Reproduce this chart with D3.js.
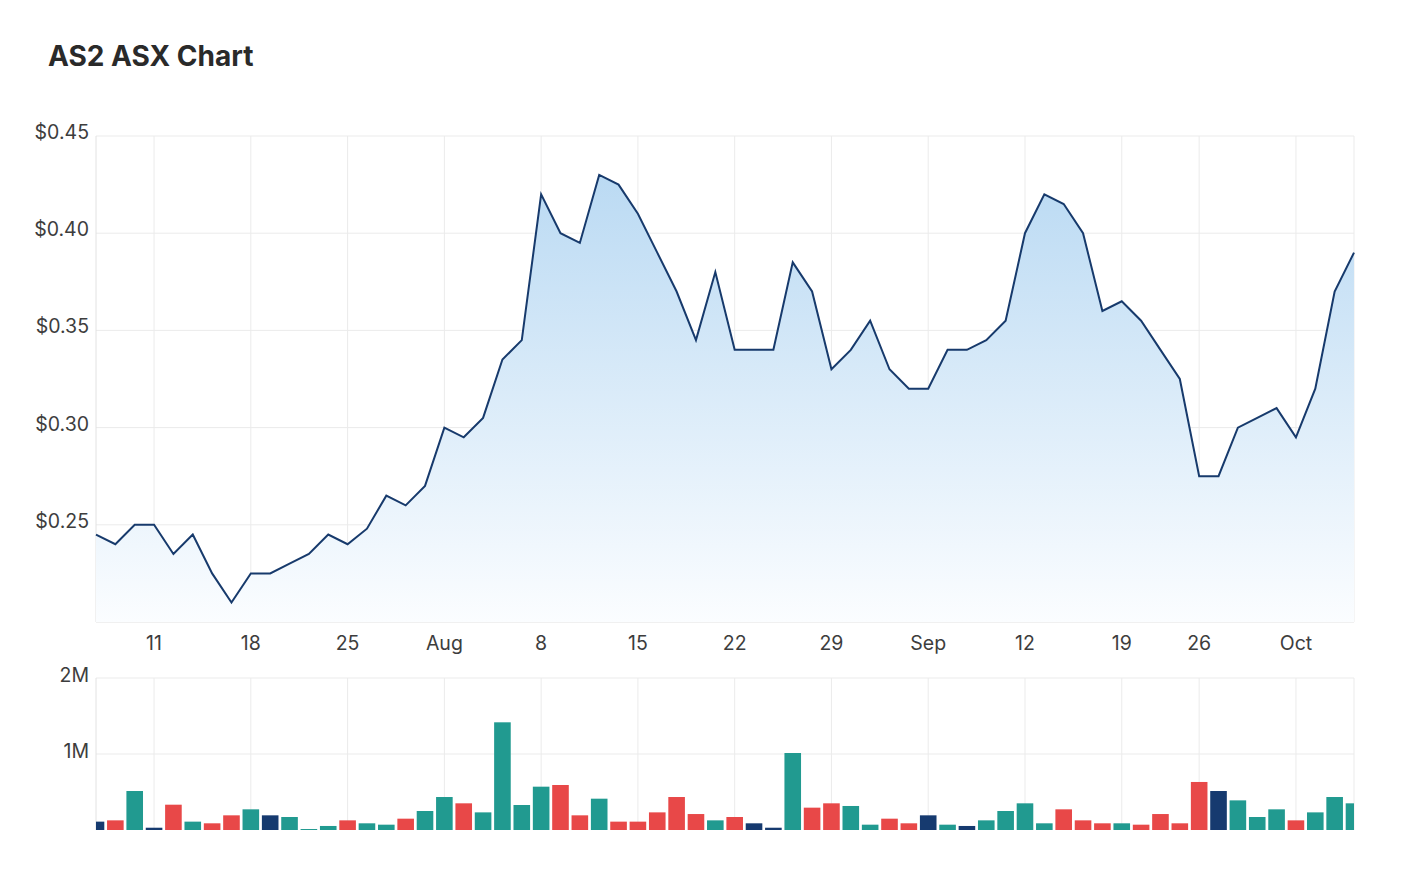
<!DOCTYPE html>
<html>
<head>
<meta charset="utf-8">
<script src="https://cdn.jsdelivr.net/npm/d3@7"></script>
<style>
  body { margin: 0; background: #fff; }
  svg text { font-family: Inter, "Noto Sans", sans-serif; }
</style>
</head>
<body>
<svg id="chart" width="1428" height="873"></svg>
<script>
// trading days (ASX closed 22 Sep 2022)
var dates = [
  "2022-07-06","2022-07-07","2022-07-08","2022-07-11","2022-07-12","2022-07-13","2022-07-14","2022-07-15",
  "2022-07-18","2022-07-19","2022-07-20","2022-07-21","2022-07-22","2022-07-25","2022-07-26","2022-07-27",
  "2022-07-28","2022-07-29","2022-08-01","2022-08-02","2022-08-03","2022-08-04","2022-08-05","2022-08-08",
  "2022-08-09","2022-08-10","2022-08-11","2022-08-12","2022-08-15","2022-08-16","2022-08-17","2022-08-18",
  "2022-08-19","2022-08-22","2022-08-23","2022-08-24","2022-08-25","2022-08-26","2022-08-29","2022-08-30",
  "2022-08-31","2022-09-01","2022-09-02","2022-09-05","2022-09-06","2022-09-07","2022-09-08","2022-09-09",
  "2022-09-12","2022-09-13","2022-09-14","2022-09-15","2022-09-16","2022-09-19","2022-09-20","2022-09-21",
  "2022-09-23","2022-09-26","2022-09-27","2022-09-28","2022-09-29","2022-09-30","2022-10-03","2022-10-04",
  "2022-10-05","2022-10-06"
];

var prices = [
  0.245, 0.24, 0.25, 0.25, 0.235, 0.245, 0.225, 0.21, 0.225, 0.225, 0.23, 0.235, 0.245, 0.24, 0.248, 0.265,
  0.26, 0.27, 0.30, 0.295, 0.305, 0.335, 0.345, 0.42, 0.40, 0.395, 0.43, 0.425, 0.41, 0.39, 0.37, 0.345,
  0.38, 0.34, 0.34, 0.34, 0.385, 0.37, 0.33, 0.34, 0.355, 0.33, 0.32, 0.32, 0.34, 0.34, 0.345, 0.355,
  0.40, 0.42, 0.415, 0.40, 0.36, 0.365, 0.355, 0.34, 0.325, 0.275, 0.275, 0.30, 0.305, 0.31, 0.295, 0.32,
  0.37, 0.39
];

// volume in millions
var volumes = [
  0.11, 0.127, 0.513, 0.03, 0.333, 0.11, 0.088, 0.193, 0.272, 0.193, 0.171, 0.013, 0.053, 0.127, 0.088, 0.07,
  0.149, 0.25, 0.434, 0.351, 0.232, 1.417, 0.329, 0.57, 0.592, 0.193, 0.412, 0.11, 0.11, 0.232, 0.434, 0.21,
  0.127, 0.171, 0.088, 0.03, 1.013, 0.294, 0.351, 0.316, 0.07, 0.149, 0.088, 0.193, 0.07, 0.053, 0.127, 0.25,
  0.351, 0.088, 0.272, 0.127, 0.088, 0.088, 0.07, 0.21, 0.088, 0.632, 0.513, 0.39, 0.171, 0.272, 0.127, 0.232,
  0.434, 0.351
];

var priceTicks = [0.25, 0.30, 0.35, 0.40, 0.45];
var volumeTicks = [1, 2];

var parseDate = d3.timeParse("%Y-%m-%d");
var days = dates.map(parseDate);

var svg = d3.select("#chart");
var left = 96, right = 1354;
var priceTop = 136, priceBottom = 622;
var volTop = 678, volBottom = 830;
var gridColor = "#ebebeb";
var textColor = "#3d3d3d";

var x = d3.scaleLinear().domain([0, dates.length - 1]).range([left, right]);
var y = d3.scaleLinear().domain([0.20, 0.45]).range([priceBottom, priceTop]);
var yv = d3.scaleLinear().domain([0, 2]).range([volBottom, volTop]);

// week ticks: Mondays, month name on the first Monday of a month
var tickIdx = d3.range(days.length).filter(function(i) { return days[i].getDay() == 1; });
var fmtTick = function(i) {
  var d = days[i];
  return d.getDate() <= 7 ? d3.timeFormat("%b")(d) : d3.timeFormat("%-d")(d);
};

var defs = svg.append("defs");
var grad = defs.append("linearGradient")
    .attr("id", "areaFill")
    .attr("gradientUnits", "userSpaceOnUse")
    .attr("x1", 0).attr("x2", 0)
    .attr("y1", priceTop).attr("y2", priceBottom);
grad.append("stop").attr("offset", "0%").attr("stop-color", "#b5d7f2");
grad.append("stop").attr("offset", "100%").attr("stop-color", "#fbfdff");

defs.append("clipPath").attr("id", "plotClip")
  .append("rect")
    .attr("x", left).attr("y", 0)
    .attr("width", right - left).attr("height", 873);

// title
svg.append("text")
    .attr("x", 48)
    .attr("y", 66)
    .style("font-size", "28px")
    .style("font-weight", "700")
    .style("fill", "#2a2a2a")
    .text("AS2 ASX Chart");

// grid - price panel
svg.append("g").selectAll("line")
  .data(priceTicks)
  .enter().append("line")
    .attr("x1", left).attr("x2", right)
    .attr("y1", function(d) { return y(d); })
    .attr("y2", function(d) { return y(d); })
    .style("stroke", gridColor);

svg.append("g").selectAll("line")
  .data(tickIdx)
  .enter().append("line")
    .attr("x1", function(d) { return x(d); })
    .attr("x2", function(d) { return x(d); })
    .attr("y1", priceTop).attr("y2", priceBottom)
    .style("stroke", gridColor);

// grid - volume panel
svg.append("g").selectAll("line")
  .data(volumeTicks)
  .enter().append("line")
    .attr("x1", left).attr("x2", right)
    .attr("y1", function(d) { return yv(d); })
    .attr("y2", function(d) { return yv(d); })
    .style("stroke", gridColor);

svg.append("g").selectAll("line")
  .data(tickIdx)
  .enter().append("line")
    .attr("x1", function(d) { return x(d); })
    .attr("x2", function(d) { return x(d); })
    .attr("y1", volTop).attr("y2", volBottom)
    .style("stroke", gridColor);

// panel borders
[[priceTop, priceBottom], [volTop, volBottom]].forEach(function(p) {
  svg.append("line").attr("x1", left).attr("x2", left).attr("y1", p[0]).attr("y2", p[1]).style("stroke", "#e2e2e2");
  svg.append("line").attr("x1", right).attr("x2", right).attr("y1", p[0]).attr("y2", p[1]).style("stroke", gridColor);
});
svg.append("line")
    .attr("x1", left).attr("x2", right)
    .attr("y1", priceBottom).attr("y2", priceBottom)
    .style("stroke", "#e2e2e2");

// area + line
var area = d3.area()
    .x(function(d, i) { return x(i); })
    .y0(priceBottom)
    .y1(function(d) { return y(d); });

var line = d3.line()
    .x(function(d, i) { return x(i); })
    .y(function(d) { return y(d); });

svg.append("path")
    .datum(prices)
    .attr("d", area)
    .style("fill", "url(#areaFill)");

svg.append("path")
    .datum(prices)
    .attr("d", line)
    .style("fill", "none")
    .style("stroke", "#173a6c")
    .style("stroke-width", 2)
    .style("stroke-linejoin", "miter");

// volume bars, coloured by day change
var barW = 16.6;
svg.append("g")
    .attr("clip-path", "url(#plotClip)")
  .selectAll("rect")
  .data(volumes)
  .enter().append("rect")
    .attr("x", function(d, i) { return x(i) - barW / 2; })
    .attr("y", function(d) { return yv(d); })
    .attr("width", barW)
    .attr("height", function(d) { return volBottom - yv(d); })
    .style("fill", function(d, i) {
      if (i == 0) return "#163a6f";
      var diff = prices[i] - prices[i - 1];
      if (Math.abs(diff) < 1e-9) return "#163a6f";
      return diff > 0 ? "#219a90" : "#e84848";
    });

// axis labels
svg.append("g").selectAll("text")
  .data(priceTicks)
  .enter().append("text")
    .attr("x", 89)
    .attr("y", function(d) { return y(d); })
    .attr("dy", "0.15em")
    .attr("text-anchor", "end")
    .style("font-size", "19.5px")
    .style("fill", textColor)
    .text(function(d) { return "$" + d3.format(".2f")(d); });

svg.append("g").selectAll("text")
  .data(volumeTicks)
  .enter().append("text")
    .attr("x", 89)
    .attr("y", function(d) { return yv(d); })
    .attr("dy", "0.2em")
    .attr("text-anchor", "end")
    .style("font-size", "19.5px")
    .style("fill", textColor)
    .text(function(d) { return d + "M"; });

svg.append("g").selectAll("text")
  .data(tickIdx)
  .enter().append("text")
    .attr("x", function(d) { return x(d); })
    .attr("y", 650)
    .attr("text-anchor", "middle")
    .style("font-size", "19.5px")
    .style("fill", textColor)
    .text(fmtTick);
</script>
</body>
</html>
